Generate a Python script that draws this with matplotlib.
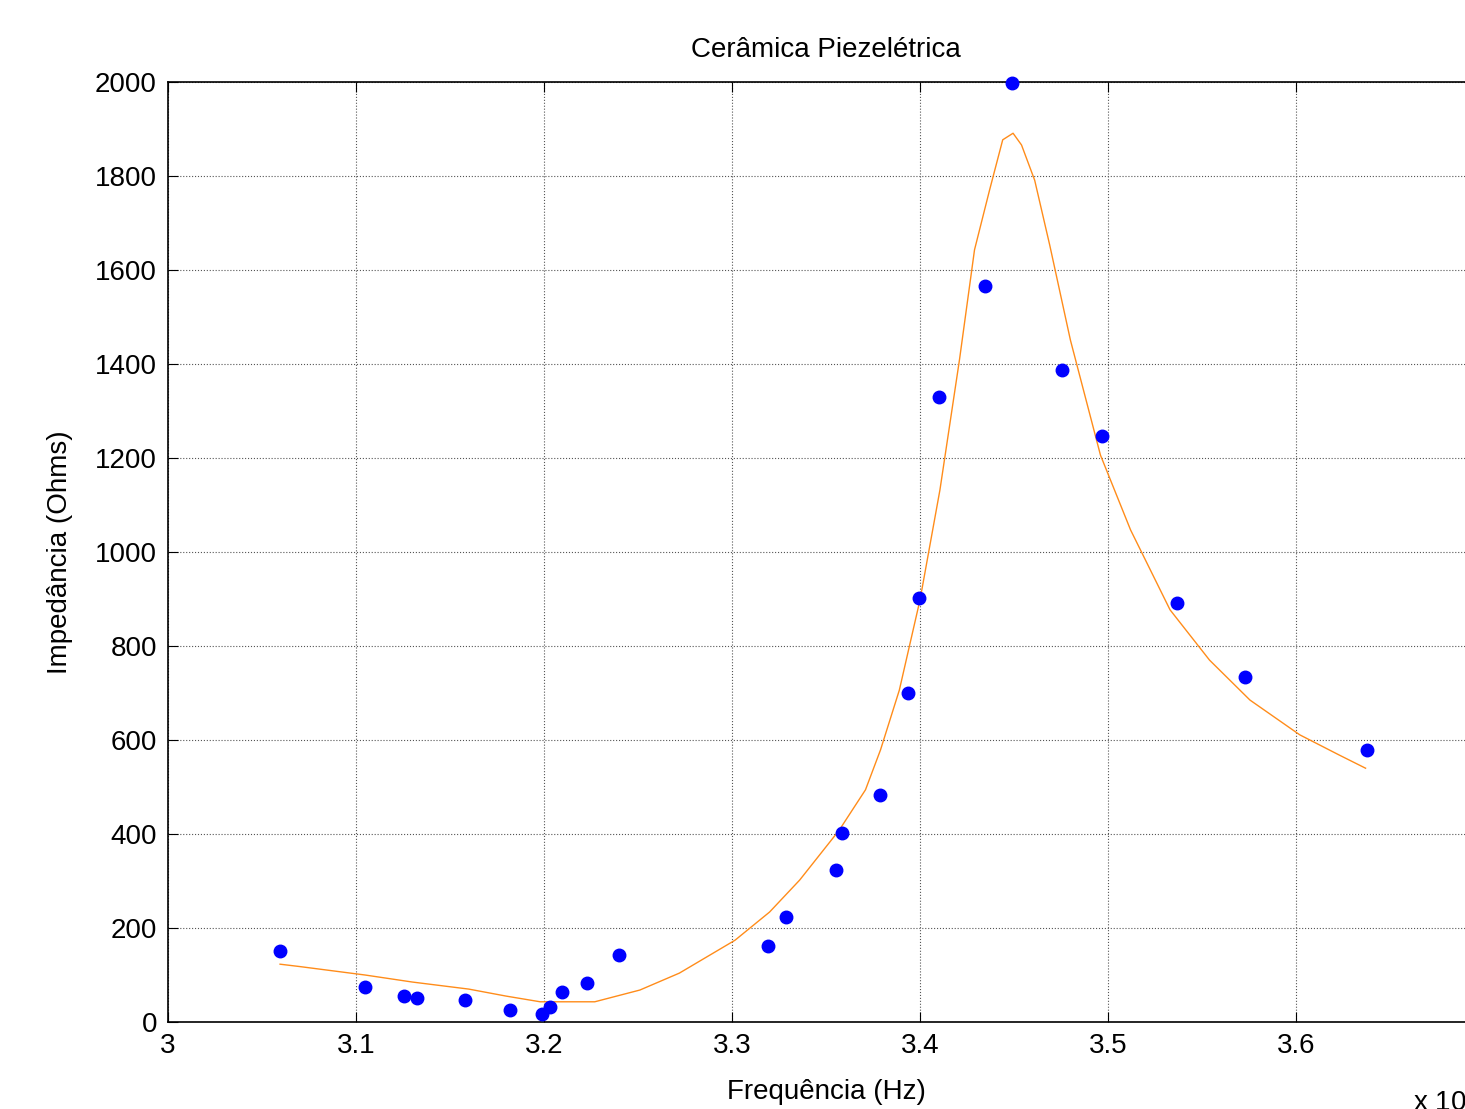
import numpy as np
import matplotlib
matplotlib.use('Agg')
import matplotlib.pyplot as plt

plt.rcParams['font.family'] = ['Liberation Sans', 'DejaVu Sans']

# measured points (frequency in units of 10^4 Hz)
freq_meas = [3.0596, 3.1048, 3.1255, 3.1324, 3.158, 3.1819, 3.1989, 3.2032, 3.2096,
             3.2229, 3.2399, 3.3191, 3.3287, 3.3553, 3.3585, 3.3787, 3.3936, 3.3995,
             3.4101, 3.4346, 3.4489, 3.4755, 3.4968, 3.5367, 3.5729, 3.6378]
imp_meas = [151, 74, 55, 51, 47, 26, 17, 32, 64, 83, 143, 162, 223, 323, 402, 483,
            700, 902, 1330, 1566, 1998, 1387, 1247, 891, 734, 579]

# fitted curve
freq_fit = [3.0596, 3.07, 3.1048, 3.13, 3.16, 3.18, 3.198, 3.227, 3.251, 3.272, 3.3016,
            3.320, 3.336, 3.357, 3.371, 3.379, 3.389, 3.400, 3.4106, 3.421, 3.429,
            3.437, 3.444, 3.4495, 3.454, 3.461, 3.469, 3.480, 3.496, 3.512, 3.533,
            3.554, 3.5755, 3.602, 3.623, 3.637]
imp_fit = [123, 118, 100, 85, 70, 55, 43, 43, 68, 104, 174, 234, 302, 408, 494, 579,
           706, 898, 1132, 1409, 1643, 1770, 1877, 1891, 1866, 1791, 1653, 1451, 1206,
           1047, 877, 770, 685, 611, 568, 540]

fig = plt.figure(figsize=(14.65, 11.09), dpi=100)
ax = fig.add_axes([168 / 1465, 87 / 1109, (1484 - 168) / 1465, 940 / 1109])

ax.plot(freq_meas, imp_meas, 'o', color='#0000ff', markersize=9, zorder=3, clip_on=False)
ax.plot(freq_fit, imp_fit, '-', color='#ff8c1a', linewidth=1.0, zorder=2)

ax.set_xlim(3, 3.7)
ax.set_ylim(0, 2000)
ax.set_xticks(np.arange(3, 3.71, 0.1))
ax.set_xticklabels(['3', '3.1', '3.2', '3.3', '3.4', '3.5', '3.6', '3.7'])
ax.set_yticks(np.arange(0, 2001, 200))
ax.grid(True, color='#555555', linestyle=':', linewidth=0.8)
ax.tick_params(direction='in', length=7, labelsize=20, top=True, right=True, pad=8)
for s in ax.spines.values():
    s.set_linewidth(1.2)

ax.set_title('Cerâmica Piezelétrica', fontsize=20, pad=18)
ax.set_xlabel('Frequência (Hz)', fontsize=20, labelpad=14)
ax.set_ylabel('Impedância (Ohms)', fontsize=20, labelpad=16)
fig.text(1413 / 1465, -8 / 1109, r'x 10$^4$', fontsize=20, ha='left', va='bottom')

fig.savefig('out.png', dpi=100)
